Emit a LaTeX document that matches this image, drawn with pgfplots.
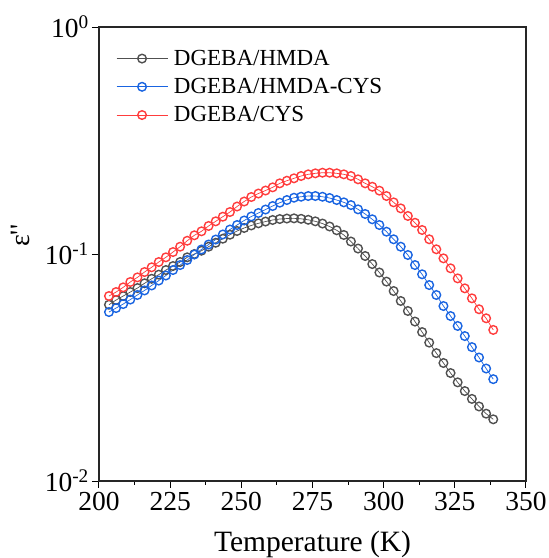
\documentclass[border=0pt]{standalone}
\usepackage{fontspec}
\setmainfont{Liberation Serif}
\usepackage{pgfplots}
\usepackage{pgfplotstable}
\pgfplotsset{compat=1.18}

\definecolor{cblk}{RGB}{80,80,80}
\definecolor{cblu}{RGB}{25,100,225}
\definecolor{cred}{RGB}{255,60,60}

% T (K), eps'' for the three systems
\pgfplotstableread{
T      hmda    hmdacys  cys
203.5  0.0598  0.0555   0.0653
206.0  0.0627  0.0578   0.0680
208.5  0.0653  0.0602   0.0713
211.0  0.0680  0.0630   0.0753
213.5  0.0708  0.0660   0.0789
216.0  0.0743  0.0691   0.0833
218.5  0.0778  0.0727   0.0874
221.0  0.0811  0.0764   0.0922
223.5  0.0850  0.0804   0.0967
226.0  0.0885  0.0850   0.1020
228.5  0.0922  0.0894   0.1077
231.0  0.0967  0.0941   0.1144
233.5  0.1000  0.0995   0.1209
236.0  0.1034  0.1047   0.1259
238.5  0.1077  0.1101   0.1329
241.0  0.1121  0.1158   0.1393
243.5  0.1168  0.1219   0.1460
246.0  0.1216  0.1282   0.1531
248.5  0.1263  0.1342   0.1619
251.0  0.1302  0.1405   0.1703
253.5  0.1336  0.1463   0.1783
256.0  0.1365  0.1516   0.1847
258.5  0.1390  0.1570   0.1904
261.0  0.1412  0.1627   0.1967
263.5  0.1426  0.1683   0.2048
266.0  0.1433  0.1729   0.2103
268.5  0.1436  0.1770   0.2155
271.0  0.1429  0.1788   0.2206
273.5  0.1415  0.1801   0.2244
276.0  0.1393  0.1801   0.2267
278.5  0.1362  0.1788   0.2281
281.0  0.1322  0.1765   0.2281
283.5  0.1272  0.1729   0.2267
286.0  0.1213  0.1689   0.2244
288.5  0.1135  0.1643   0.2206
291.0  0.1057  0.1573   0.2133
293.5  0.0980  0.1501   0.2048
296.0  0.0903  0.1422   0.1979
298.5  0.0829  0.1342   0.1901
301.0  0.0756  0.1254   0.1801
303.5  0.0687  0.1161   0.1689
306.0  0.0621  0.1077   0.1589
308.5  0.0561  0.0990   0.1471
311.0  0.0504  0.0894   0.1373
313.5  0.0453  0.0814   0.1276
316.0  0.0407  0.0730   0.1161
318.5  0.0366  0.0660   0.1049
321.0  0.0331  0.0590   0.0957
323.5  0.0299  0.0533   0.0865
326.0  0.0272  0.0482   0.0781
328.5  0.0249  0.0435   0.0706
331.0  0.0230  0.0389   0.0638
333.5  0.0213  0.0350   0.0571
336.0  0.0198  0.0313   0.0521
338.5  0.0187  0.0281   0.0463
}\epsdata

\begin{document}
\begin{tikzpicture}
\path[use as bounding box] (-99pt,-77pt) rectangle (450pt,481pt);
\begin{axis}[
  at={(0pt,0pt)}, anchor=south west,
  scale only axis, width=427pt, height=454pt,
  ymode=log, log basis y=10,
  xmin=200, xmax=350, ymin=0.01, ymax=1,
  xtick={200,225,...,350}, minor x tick num=1,
  ytick={0.01,0.1,1},
  yticklabels={10\textsuperscript{-2},10\textsuperscript{-1},10\textsuperscript{0}},
  /pgf/number format/assume math mode=true,
  xtick pos=bottom, ytick pos=left, tick align=outside,
  major tick length=7pt, minor tick length=4pt,
  every tick/.style={line width=1pt, black},
  axis line style={line width=1.3pt, black!85},
  ticklabel style={font=\fontsize{27.5}{30}\selectfont},
  xticklabel style={inner sep=4pt},
  yticklabel style={inner sep=3pt},
  xlabel={Temperature (K)},
  xlabel style={font=\fontsize{29.5}{34}\selectfont, at={(axis description cs:0.5,0)}, anchor=base, yshift=-70pt},
  ylabel={ε\textquotesingle\textquotesingle},
  ylabel style={font=\fontsize{28}{32}\selectfont, at={(axis description cs:-0.185,0.54)}, anchor=center, rotate=0},
  legend style={at={(axis description cs:0,1)}, anchor=north west, xshift=14pt, yshift=-20pt,
    draw=none, fill=none, font=\fontsize{23}{26}\selectfont, row sep=9.5pt,
    nodes={inner xsep=6pt, inner ysep=1pt}},
  legend cell align=left,
  legend image code/.code={\draw[mark repeat=2,mark phase=2,#1] plot coordinates {(0pt,0pt) (25.5pt,0pt) (51pt,0pt)};},
]
\addplot[cblk, line width=0.7pt, mark=o, mark size=4.3pt, mark options={draw=cblk, line width=1.4pt, solid}]
  table[x=T, y=hmda] {\epsdata};
\addplot[cblu, line width=0.7pt, mark=o, mark size=4.3pt, mark options={draw=cblu, line width=1.4pt, solid}]
  table[x=T, y=hmdacys] {\epsdata};
\addplot[cred, line width=0.7pt, mark=o, mark size=4.3pt, mark options={draw=cred, line width=1.4pt, solid}]
  table[x=T, y=cys] {\epsdata};
\legend{DGEBA/HMDA, DGEBA/HMDA-CYS, DGEBA/CYS}
\end{axis}
\end{tikzpicture}
\end{document}
